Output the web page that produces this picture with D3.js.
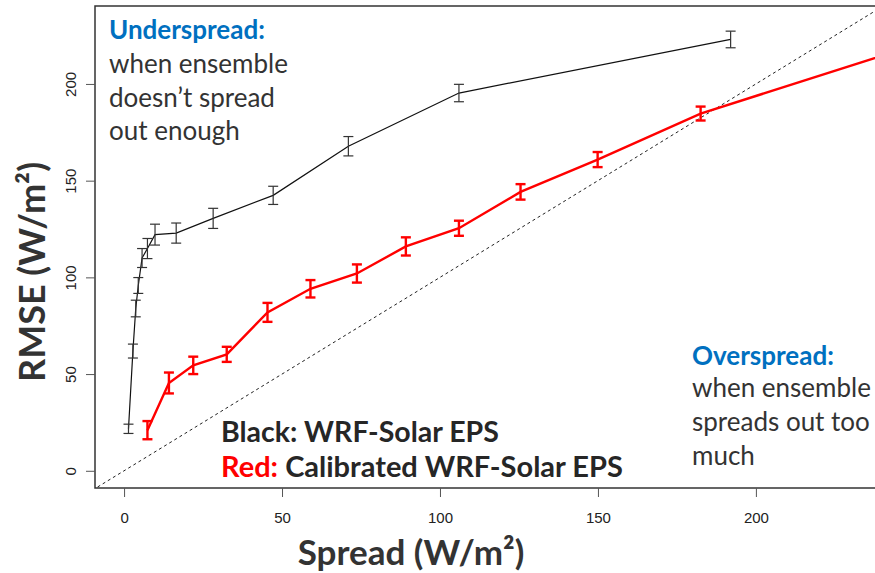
<!DOCTYPE html>
<html>
<head>
<meta charset="utf-8">
<script src="https://cdn.jsdelivr.net/npm/d3@7"></script>
<style>
  body { margin: 0; background: #fff; }
  svg { display: block; }
</style>
</head>
<body>
<svg id="chart" width="875" height="573"></svg>
<script>
// data (spread, rmse, half error bar), units W/m2
const black_spread = [1.4, 2.8, 3.7, 4.5, 5.7, 7.4, 9.8, 16.5, 28.2, 47.2, 71, 106, 192];
const black_rmse = [21.7, 61.9, 83.9, 95.8, 110, 114.9, 122.1, 122.9, 130.5, 142.4, 167.8, 195.3, 223];
const black_err = [2.4, 3.6, 4.3, 4.1, 4.9, 5.2, 5.4, 5.2, 5.2, 4.7, 5.0, 4.5, 4.3];

const red_spread = [7.4, 14.2, 21.9, 32.5, 45.4, 59, 73.7, 89.2, 106, 125.5, 149.9, 182.5, 262];
const red_rmse = [21.0, 45.4, 54.5, 60.2, 81.9, 94.1, 102, 116, 125.4, 144.2, 160.9, 184.7, 226];
const red_err = [4.7, 5.4, 4.5, 3.9, 4.9, 4.5, 4.7, 4.7, 3.9, 4.0, 3.9, 3.6, 3.6];

const x_ticks = [0, 50, 100, 150, 200];
const y_ticks = [0, 50, 100, 150, 200];

const black_rows = black_spread.map(function (d, i) {
  return { x: d, y: black_rmse[i], e: black_err[i] };
});
const red_rows = red_spread.map(function (d, i) {
  return { x: d, y: red_rmse[i], e: red_err[i] };
});

const svg = d3.select("#chart");
const plot = { left: 95, top: 6, bottom: 488, right: 875 };

// scales (plot is cut off on the right side of the image)
var x_scale = d3.scaleLinear().domain([-9.2, 237.7]).range([plot.left, plot.right]);
var y_scale = d3.scaleLinear().domain([-8.9, 240.3]).range([plot.bottom, plot.top]);

svg.append("defs")
  .append("clipPath")
  .attr("id", "plot_clip")
  .append("rect")
  .attr("x", plot.left)
  .attr("y", plot.top)
  .attr("width", plot.right - plot.left + 20)
  .attr("height", plot.bottom - plot.top);

// frame
svg.append("rect")
  .attr("x", plot.left)
  .attr("y", plot.top)
  .attr("width", plot.right - plot.left + 20)
  .attr("height", plot.bottom - plot.top)
  .attr("fill", "none")
  .attr("stroke", "#333")
  .attr("stroke-width", 1.5);

// axes
var y_axis = svg.append("g")
  .attr("class", "y_axis")
  .attr("transform", "translate(" + plot.left + ",0)")
  .call(d3.axisLeft(y_scale).tickValues(y_ticks).tickSize(9));
y_axis.select(".domain").remove();
y_axis.selectAll("line").attr("stroke", "#555");
y_axis.selectAll("text")
  .attr("x", 0)
  .attr("y", -19)
  .attr("dy", 0)
  .attr("text-anchor", "middle")
  .attr("transform", "rotate(-90)")
  .attr("fill", "#222")
  .style("font-family", "'Liberation Sans', Arial, sans-serif")
  .style("font-size", "15px");

var x_axis = svg.append("g")
  .attr("class", "x_axis")
  .attr("transform", "translate(0," + plot.bottom + ")")
  .call(d3.axisBottom(x_scale).tickValues(x_ticks).tickSize(9));
x_axis.select(".domain").remove();
x_axis.selectAll("line").attr("stroke", "#555");
x_axis.selectAll("text")
  .attr("y", 24)
  .attr("fill", "#222")
  .style("font-family", "'Liberation Sans', Arial, sans-serif")
  .style("font-size", "15px");

var g = svg.append("g").attr("clip-path", "url(#plot_clip)");

// 1:1 line
g.append("line")
  .attr("x1", x_scale(-10))
  .attr("y1", y_scale(-10))
  .attr("x2", x_scale(260))
  .attr("y2", y_scale(260))
  .attr("stroke", "#222")
  .attr("stroke-width", 1)
  .attr("stroke-dasharray", "3,3");

var line = d3.line()
  .x(function (d) { return x_scale(d.x); })
  .y(function (d) { return y_scale(d.y); });

function draw_series(rows, color, width, cap, cap_color) {
  g.append("path")
    .datum(rows)
    .attr("d", line)
    .attr("fill", "none")
    .attr("stroke", color)
    .attr("stroke-width", width);

  var bars = g.append("g")
    .selectAll(null)
    .data(rows)
    .enter()
    .append("g")
    .attr("stroke", cap_color)
    .attr("stroke-width", width);

  bars.append("line")
    .attr("x1", function (d) { return x_scale(d.x); })
    .attr("x2", function (d) { return x_scale(d.x); })
    .attr("y1", function (d) { return y_scale(d.y - d.e); })
    .attr("y2", function (d) { return y_scale(d.y + d.e); });
  // caps
  [-1, 1].forEach(function (s) {
    bars.append("line")
      .attr("x1", function (d) { return x_scale(d.x) - cap; })
      .attr("x2", function (d) { return x_scale(d.x) + cap; })
      .attr("y1", function (d) { return y_scale(d.y + s * d.e); })
      .attr("y2", function (d) { return y_scale(d.y + s * d.e); });
  });
}

draw_series(black_rows, "#111", 1.2, 5, "#333");
draw_series(red_rows, "#ff0000", 2.4, 5, "#ff0000");

// annotations
var sans = "Lato, 'Open Sans', sans-serif";

function add_text(x, y, txt, size, weight, color) {
  return svg.append("text")
    .attr("x", x)
    .attr("y", y)
    .attr("fill", color)
    .style("font-family", sans)
    .style("font-size", size + "px")
    .style("font-weight", weight)
    .text(txt);
}

add_text(109, 39, "Underspread:", 26, 700, "#0070c0");
add_text(109, 73, "when ensemble", 26, 400, "#333");
add_text(109, 107, "doesn\u2019t spread", 26, 400, "#333");
add_text(109, 140, "out enough", 26, 400, "#333");

add_text(692, 365, "Overspread:", 26, 700, "#0070c0");
add_text(692, 397, "when ensemble", 26, 400, "#333");
add_text(692, 431, "spreads out too", 26, 400, "#333");
add_text(692, 465, "much", 26, 400, "#333");

add_text(221, 442, "Black: WRF-Solar EPS", 28.5, 700, "#262626");
var red_lab = add_text(221, 477, "", 29, 700, "#262626");
red_lab.append("tspan").attr("fill", "#ff0000").text("Red:");
red_lab.append("tspan").text(" Calibrated WRF-Solar EPS");

// axis titles
svg.append("text")
  .attr("x", 411)
  .attr("y", 565)
  .attr("text-anchor", "middle")
  .attr("fill", "#333")
  .style("font-family", sans)
  .style("font-size", "35px")
  .style("font-weight", 700)
  .text("Spread (W/m\u00b2)");

svg.append("text")
  .attr("transform", "translate(45,272) rotate(-90)")
  .attr("text-anchor", "middle")
  .attr("fill", "#333")
  .style("font-family", sans)
  .style("font-size", "36px")
  .style("font-weight", 700)
  .text("RMSE (W/m\u00b2)");
</script>
</body>
</html>
